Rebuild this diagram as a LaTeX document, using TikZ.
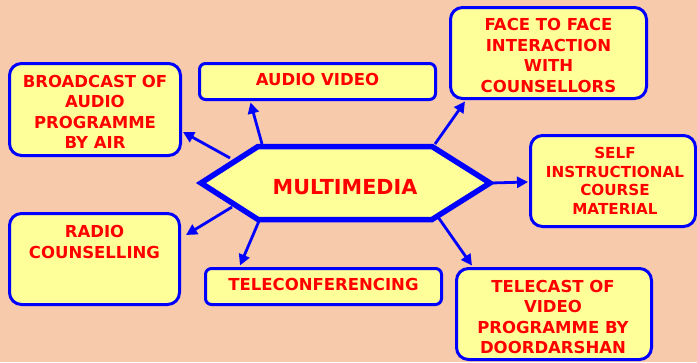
\documentclass[tikz,border=0pt]{standalone}
\usepackage{fontspec}
\setmainfont{DejaVu Sans}
\usetikzlibrary{arrows.meta,calc}
\definecolor{bgpeach}{HTML}{F6CAAB}
\definecolor{boxyellow}{HTML}{FFFF99}
\begin{document}
\begin{tikzpicture}[x=1pt,y=-1pt,
  box/.style={draw=blue, fill=boxyellow, line width=3pt, rounded corners=12pt,
    inner sep=0pt, text=red, align=center,
    font=\fontsize{16.5}{20.5}\selectfont\bfseries},
  flatbox/.style={box, rounded corners=6pt},
  txt/.style={text=red, align=center, inner sep=0pt,
    font=\fontsize{16.5}{20.5}\selectfont\bfseries},
  arr/.style={draw=blue, line width=2.8pt, -{Triangle[length=11pt,width=11pt]}}]
\fill[bgpeach] (0,0) rectangle (697,362);
\useasboundingbox (0,0) rectangle (697,362);

% hexagon
\filldraw[draw=blue, fill=boxyellow, line width=5.5pt, line join=miter]
  (201,183) -- (258,146.5) -- (432,146.5) -- (490,183) -- (432,219.5) -- (258,219.5) -- cycle;
\node[txt, font=\fontsize{20.7}{24}\selectfont\bfseries] (hex) at (345,187) {MULTIMEDIA};

% boxes
\node[box, minimum width=171, minimum height=92] (broadcast) at (95,109.5) {};
\node[txt] (broadcasttxt) at (95,112) {BROADCAST OF\\AUDIO\\PROGRAMME\\BY AIR};
\node[flatbox, minimum width=236, minimum height=36] (audio) at (317.5,81.5) {};
\node[txt] (audiotxt) at (317.5,79.5) {AUDIO VIDEO};
\node[box, minimum width=196, minimum height=91] (face) at (548.5,53) {};
\node[txt] (facetxt) at (548.5,55.5) {FACE TO FACE\\INTERACTION\\WITH\\COUNSELLORS};
\node[box, minimum width=165, minimum height=91] (self) at (613,181) {};
\node[txt, font=\fontsize{15.2}{18.5}\selectfont\bfseries] (selftxt) at (615,181)
  {SELF\\INSTRUCTIONAL\\COURSE\\MATERIAL};
\node[box, minimum width=170, minimum height=91] (radio) at (94.5,259) {};
\node[txt] (radiotxt) at (94.5,242) {RADIO\\COUNSELLING};
\node[flatbox, minimum width=236, minimum height=36] (telecon) at (323.5,286.5) {};
\node[txt] (telecontxt) at (323.5,284) {TELECONFERENCING};
\node[box, minimum width=195, minimum height=91] (telecast) at (554,314) {};
\node[txt] (telecasttxt) at (553,317) {TELECAST OF\\VIDEO\\PROGRAMME BY\\DOORDARSHAN};

% start points on the hexagon
\coordinate (s1) at (230,158);
\coordinate (s2) at (262,144);
\coordinate (s3) at (435,144);
\coordinate (s4) at (491,183);
\coordinate (s5) at (232,207);
\coordinate (s6) at (259,221);
\coordinate (s7) at (438,217);

\draw[arr] (s1) -- ($(broadcast.east)+(1,22.5)$);
\draw[arr] (s2) -- ($(audio.south)+(-67,1.5)$);
\draw[arr] (s3) -- ($(face.south west)+(16,1.5)$);
\draw[arr] (s4) -- ($(self.west)+(-1,1)$);
\draw[arr] (s5) -- ($(radio.east)+(5,-24)$);
\draw[arr] (s6) -- ($(telecon.north west)+(36,-1.5)$);
\draw[arr] (s7) -- ($(telecast.north west)+(17,-1.5)$);
\end{tikzpicture}
\end{document}
